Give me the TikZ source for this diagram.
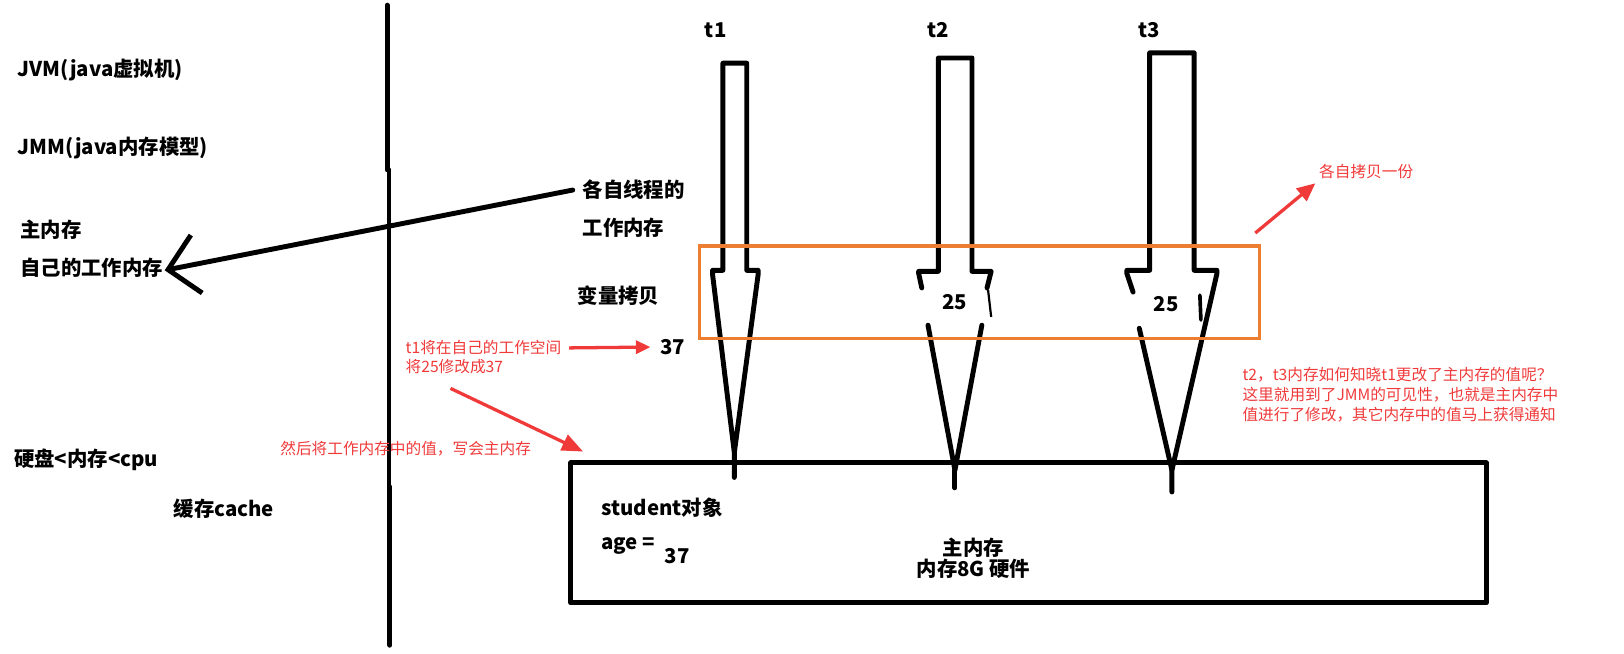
\documentclass[tikz,border=0pt]{standalone}
\usepackage{fontspec}
\setmainfont{Noto Sans CJK SC}
\usepackage{xcolor}
\usepackage{tikz}
\usetikzlibrary{arrows.meta}
\definecolor{redc}{RGB}{240,58,58}
\definecolor{orangec}{RGB}{237,125,49}

\begin{document}
\begin{tikzpicture}[x=0.01cm, y=-0.01cm,
  lbl/.style={font=\fontsize{5.6}{6}\selectfont\bfseries, inner sep=0pt, anchor=west},
  note/.style={font=\fontsize{4.3}{5.5}\selectfont, text=redc, inner sep=0pt, anchor=west, align=left},
  ink/.style={line width=1.35pt, line cap=round, line join=round},
  redarr/.style={draw=redc, line width=0.9pt, -{Triangle[length=5pt,width=4.4pt]}}]
  \useasboundingbox (0,0) rectangle (1568,631);

  % Left column
  \node[lbl] (jvm) at (16,68) {JVM(java虚拟机)};
  \node[lbl] (jmm) at (16,143) {JMM(java内存模型)};
  \node[lbl] (zhu) at (19,222) {主内存};
  \node[lbl] (ziji) at (19,259) {自己的工作内存};
  \node[lbl] (disk) at (13,444) {硬盘<内存<cpu};
  \node[lbl] (cache) at (167,491) {缓存cache};

  % Divider
  \draw[ink] (373.7,5) -- (373.7,164);
  \draw[ink] (375.6,164) -- (375.6,470);
  \draw[ink] (376.5,470) -- (376.5,623);

  % Thread labels
  \node[lbl] (gezi) at (562,183.5) {各自线程的};
  \node[lbl] (gongzuo) at (562,220) {工作内存};
  \node[lbl] (bianliang) at (557,285) {变量拷贝};
  \node[lbl] (v37) at (637,335) {37};
  \foreach \t/\x in {1/691,2/906,3/1110}
    \node[lbl, anchor=center] (t\t) at (\x,29) {t\t};

  % Work memory -> own work memory
  \coordinate (tip) at (159,261);
  \draw[ink, -{Straight Barb[length=2.8mm,width=5.7mm]}] ([xshift=-0.9mm]gezi.west) -- (tip);

  % Thread t1
  \draw[ink] (709,461) -- (709,437) -- (688,265) -- (688,261) -- (698,261) -- (698,61)
    -- (721,61) -- (721,261) -- (732,261) -- (732,265) -- (709,437);
  % Thread t2
  \draw[ink] (890,278) -- (887,264) -- (887,262) -- (906,262) -- (906,56) -- (938.5,56)
    -- (938.5,262) -- (957,262) -- (953,278);
  \draw[line width=0.6pt] (954,280) -- (957,306);
  \draw[ink] (896,314) -- (922,454) -- (948,314);
  \draw[ink] (922,454) -- (922,471);
  \node[lbl, anchor=center] (vtwo) at (922,292) {25};
  % Thread t3
  \draw[ink] (1094,282) -- (1088,264) -- (1088,261) -- (1110,261) -- (1110,51) -- (1153,51)
    -- (1153,261) -- (1175,261) -- (1175,264) -- (1131.5,454) -- (1131.5,475);
  \draw[ink] (1100,317) -- (1131.5,454);
  \draw[ink, line width=1pt] (1158.5,285) -- (1159.5,309);
  \node[lbl, anchor=center] (vthree) at (1126,294) {25};

  % Copy region
  \draw[orangec, line width=0.85pt] (675,237.5) rectangle (1216.5,327);

  % Main memory
  \draw[ink, line cap=butt] (551,447) rectangle (1435,582);
  \node[lbl] (stu) at (580,490) {student对象};
  \node[lbl] (age) at (580,527) {age =};
  \node[lbl] (agev) at (641,537) {37};
  \node[lbl, anchor=center, align=center] (mainmem) at (940,539) {主内存\\内存8G 硬件};

  % Red notes
  \node[note] (n1a) at (391,336) {t1将在自己的工作空间};
  \node[note] (n1b) at (391,354) {将25修改成37};
  \node[note] (n2) at (270,433) {然后将工作内存中的值，写会主内存};
  \node[note] (copy) at (1273,166) {各自拷贝一份};
  \node[note] (vis) at (1199,381) {t2，t3内存如何知晓t1更改了主内存的值呢？\\
    这里就用到了JMM的可见性，也就是主内存中\\
    值进行了修改，其它内存中的值马上获得通知};

  \coordinate (wtail) at (435,375);
  \coordinate (whead) at (563,436);
  \coordinate (ctail) at (1212,225);
  \coordinate (chead) at (1270,177);
  \draw[redarr, shorten <=0.7mm, shorten >=0.9mm, -{Triangle[length=4pt,width=3.6pt]}] (n1a.east) -- (v37.west);
  \draw[redarr, -{Triangle[length=5.8pt,width=4.6pt]}] (wtail) -- (whead);
  \draw[redarr] (ctail) -- (chead);
\end{tikzpicture}
\end{document}
